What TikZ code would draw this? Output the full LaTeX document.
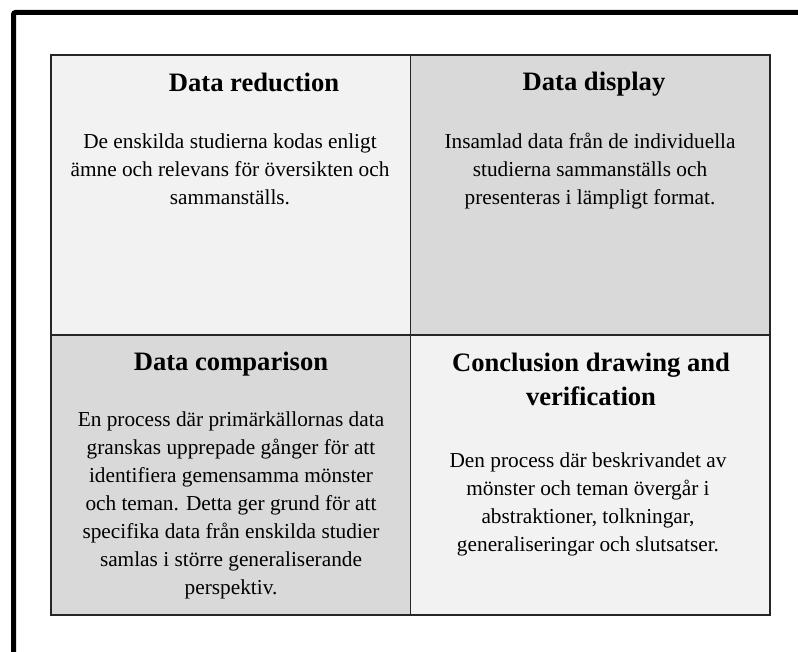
\documentclass[tikz,border=0pt]{standalone}
\usepackage{fontspec}
\setmainfont{Liberation Serif}
\usetikzlibrary{positioning}
\definecolor{cellpale}{HTML}{F2F2F2}
\definecolor{celldark}{HTML}{D9D9D9}
\tikzset{
	cellbox/.style={rectangle, draw=black!85, line width=1.4pt, minimum width=359.5pt, minimum height=280pt, inner sep=0pt, outer sep=0pt},
	headtxt/.style={font=\fontsize{26.6}{34}\selectfont\bfseries, align=center, anchor=base, inner sep=0pt},
	bodytxt/.style={font=\fontsize{21.3}{28}\selectfont, align=center, anchor=base, inner sep=0pt}
}

\begin{document}
\begin{tikzpicture}[x=1pt, y=-1pt]
		\useasboundingbox (0,0) rectangle (798,652);
		\clip (0,0) rectangle (798,652);
		
		%frame
		\draw[line width=5pt, rounded corners=2pt] (13.5,12.5) rectangle (830,690);
		
		%cells
		\node[cellbox, fill=cellpale, anchor=north west] at (51,55) (red) {};
		\node[cellbox, fill=celldark, right=0pt of red] (disp) {};
		\node[cellbox, fill=celldark, below=0pt of red] (comp) {};
		\node[cellbox, fill=cellpale, right=0pt of comp] (concl) {};
		
		%titles (base = last line)
		\node[headtxt] at (254,91.5) (redT) {Data reduction};
		\node[headtxt] at (594,91) (dispT) {Data display};
		\node[headtxt] at (231,370.5) (compT) {Data comparison};
		\node[headtxt] at (591,405) (conclT) {Conclusion drawing and\\verification};
		
		%texts (base = last line)
		\node[bodytxt] at (230,205) (redB) {De enskilda studierna kodas enligt\\ämne och relevans för översikten och\\sammanställs.};
		\node[bodytxt] at (590,205) (dispB) {Insamlad data från de individuella\\studierna sammanställs och\\presenteras i lämpligt format.};
		\node[bodytxt] at (231,594) (compB) {En process där primärkällornas data\\granskas upprepade gånger för att\\identifiera gemensamma mönster\\och teman. Detta ger grund för att\\specifika data från enskilda studier\\samlas i större generaliserande\\perspektiv.};
		\node[bodytxt] at (588,551) (conclB) {Den process där beskrivandet av\\mönster och teman övergår i\\abstraktioner, tolkningar,\\generaliseringar och slutsatser.};
		
	\end{tikzpicture}
\end{document}
